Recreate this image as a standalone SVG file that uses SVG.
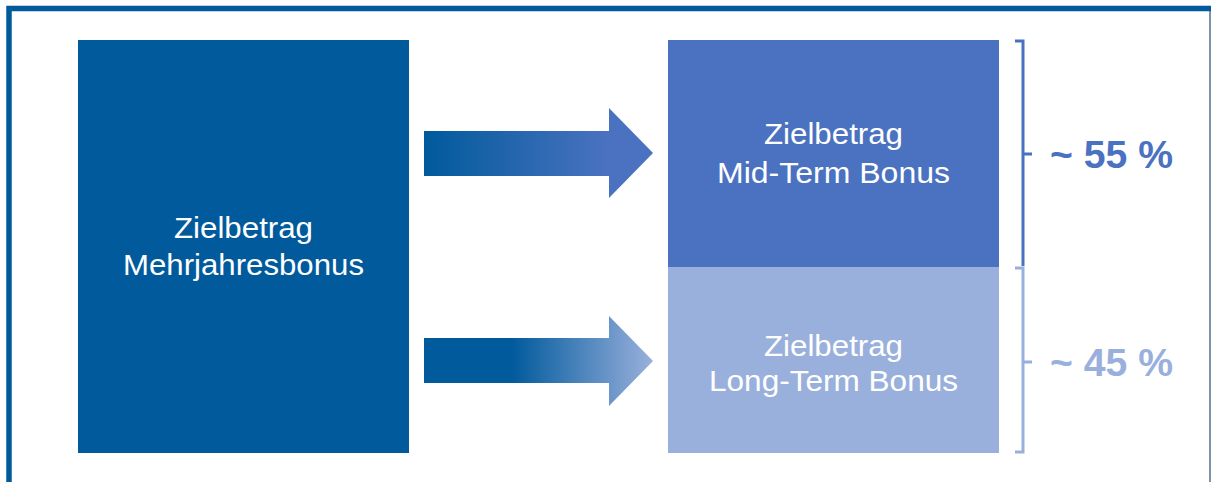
<svg xmlns="http://www.w3.org/2000/svg" width="1212" height="482" viewBox="0 0 1212 482">
  <style>
    .lbl { font-family: "Liberation Sans", Arial, sans-serif; font-size: 29px; fill: #ffffff; text-anchor: middle; }
    .pct { font-family: "Liberation Sans", Arial, sans-serif; font-size: 38px; font-weight: bold; }
    .br { fill: none; stroke-width: 3; }
  </style>
  <defs>
    <linearGradient id="g1" gradientUnits="userSpaceOnUse" x1="424" y1="0" x2="653" y2="0">
      <stop offset="0" stop-color="#005a9c"/>
      <stop offset="0.8" stop-color="#4a72c0"/>
      <stop offset="1" stop-color="#4a72c0"/>
    </linearGradient>
    <linearGradient id="g2" gradientUnits="userSpaceOnUse" x1="424" y1="0" x2="653" y2="0">
      <stop offset="0" stop-color="#005a9c"/>
      <stop offset="0.38" stop-color="#005a9c"/>
      <stop offset="1" stop-color="#9ab0dc"/>
    </linearGradient>
  </defs>
  <rect width="1212" height="482" fill="#ffffff"/>
  <g id="frame">
    <line x1="1210" y1="8" x2="1210" y2="482" stroke="#7d93ad" stroke-width="2"/>
    <path d="M9 482 V8.5 H1211" fill="none" stroke="#005a9c" stroke-width="5.5"/>
  </g>
  <g id="node-mehrjahresbonus">
    <rect x="78" y="40" width="331" height="413" fill="#005a9c"/>
    <text class="lbl" x="243.5" y="238" textLength="139" lengthAdjust="spacingAndGlyphs">Zielbetrag</text>
    <text class="lbl" x="243.5" y="275" textLength="241" lengthAdjust="spacingAndGlyphs">Mehrjahresbonus</text>
  </g>
  <g id="node-midterm">
    <rect x="668" y="40" width="331" height="227" fill="#4a72c0"/>
    <text class="lbl" x="833.5" y="144" textLength="139" lengthAdjust="spacingAndGlyphs">Zielbetrag</text>
    <text class="lbl" x="833.5" y="183" textLength="233" lengthAdjust="spacingAndGlyphs">Mid-Term Bonus</text>
  </g>
  <g id="node-longterm">
    <rect x="668" y="267" width="331" height="186" fill="#9ab0dc"/>
    <text class="lbl" x="833.5" y="356" textLength="139" lengthAdjust="spacingAndGlyphs">Zielbetrag</text>
    <text class="lbl" x="833.5" y="391" textLength="249" lengthAdjust="spacingAndGlyphs">Long-Term Bonus</text>
  </g>
  <g id="connectors">
    <polygon points="424,131 609,131 609,108 653,153 609,198 609,176 424,176" fill="url(#g1)"/>
    <polygon points="424,338 609,338 609,316 653,361 609,406 609,383 424,383" fill="url(#g2)"/>
  </g>
  <g id="share-55">
    <path class="br" d="M1015 41 H1023 V266 M1023 154 H1032" stroke="#4a72c0"/>
    <text class="pct" x="1050" y="168" fill="#4a72c0" textLength="123" lengthAdjust="spacingAndGlyphs">~ 55 %</text>
  </g>
  <g id="share-45">
    <path class="br" d="M1015 268 H1023 V452 H1015 M1023 362 H1032" stroke="#9ab0dc"/>
    <text class="pct" x="1050" y="376" fill="#9ab0dc" textLength="123" lengthAdjust="spacingAndGlyphs">~ 45 %</text>
  </g>
</svg>
